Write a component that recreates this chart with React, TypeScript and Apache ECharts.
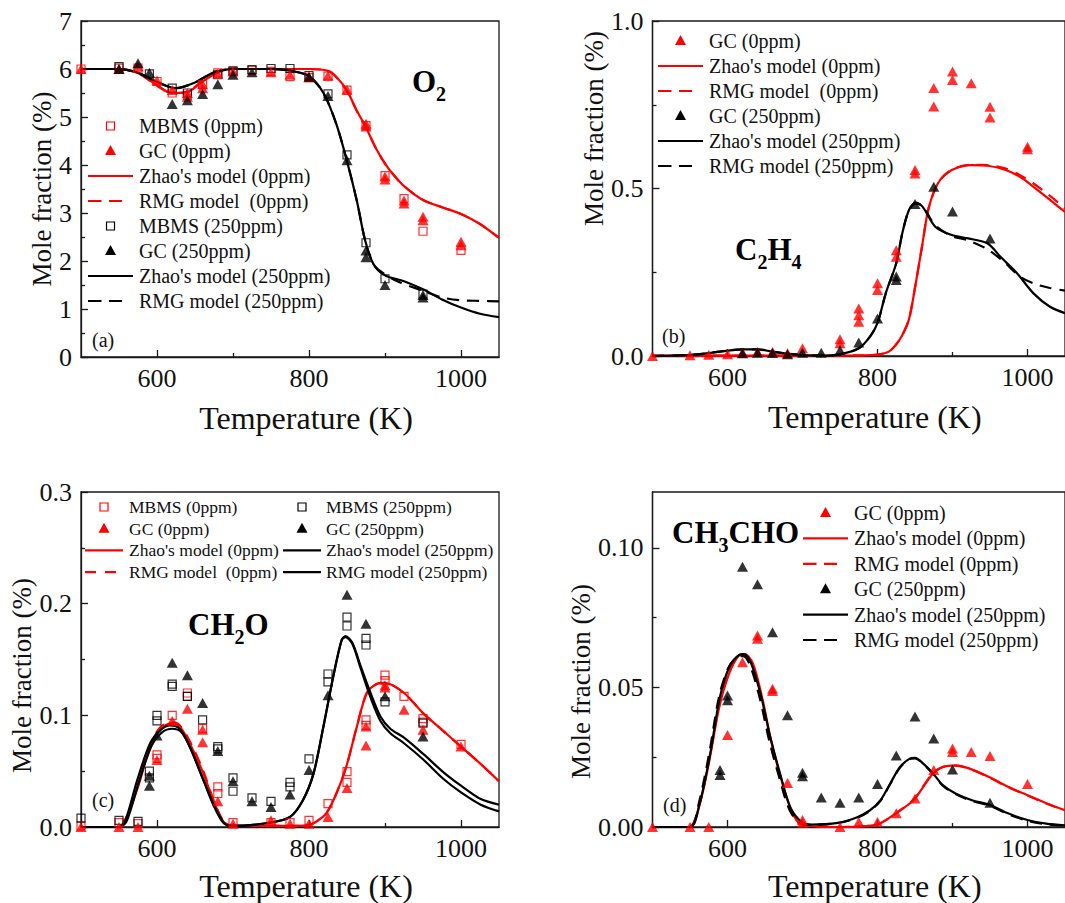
import React, { useEffect, useRef } from 'react';
import * as echarts from 'echarts';

const FONT = "'Liberation Serif', 'Times New Roman', serif";
const RED = '#ff0000';
const BLACK = '#000000';
const AXC = '#1a1a1a';
const TXT = '#111111';

type P = number[][];

// ---------- tick values ----------
const xMajor = [600, 800, 1000];
const xMinor = [700, 900];
const aYMajor = [0, 1, 2, 3, 4, 5, 6, 7];
const aYMinor = [0.5, 1.5, 2.5, 3.5, 4.5, 5.5, 6.5];
const bYMajor = [0, 0.5, 1.0];
const bYMinor = [0.25, 0.75];
const cYMajor = [0, 0.1, 0.2, 0.3];
const cYMinor = [0.05, 0.15, 0.25];
const dYMajor = [0, 0.05, 0.1];
const dYMinor = [0.025, 0.075];

// ---------- panel (a) O2 ----------
const aMbms0: P = [[500,6.0],[550,6.02],[575,6.02],[600,5.74],[620,5.5],[640,5.45],[660,5.68],[680,5.92],[700,5.95],[725,5.97],[750,5.95],[775,5.84],[800,5.82],[825,5.85],[850,5.56],[875,4.82],[900,3.78],[925,3.3],[950,2.62],[1000,2.22]];
const aGc0: P = [[500,6.0],[550,6.0],[575,6.05],[600,5.76],[620,5.56],[640,5.42],[640,5.5],[660,5.6],[660,5.68],[680,5.9],[700,5.95],[750,5.93],[775,5.88],[800,5.83],[825,5.86],[850,5.57],[875,4.8],[875,4.86],[900,3.7],[900,3.76],[925,3.2],[925,3.26],[950,2.85],[950,2.92],[1000,2.33],[1000,2.4]];
const aMbms250: P = [[550,6.05],[590,5.9],[620,5.6],[640,5.5],[680,5.88],[700,5.96],[725,5.99],[750,6.01],[775,6.01],[800,5.86],[825,5.48],[850,4.21],[875,2.38],[900,1.63],[950,1.31]];
const aGc250: P = [[550,6.0],[575,6.12],[590,5.92],[620,5.27],[640,5.35],[660,5.48],[680,5.68],[700,5.88],[725,5.93],[800,5.84],[825,5.44],[850,4.1],[875,2.22],[875,2.08],[900,1.5],[950,1.29],[950,1.24]];
const aZhao0: P = [[500,6.0],[550,6.0],[575,5.92],[600,5.66],[620,5.5],[640,5.52],[660,5.74],[680,5.93],[700,6.0],[750,6.0],[800,6.0],[825,5.96],[837,5.82],[850,5.55],[863,5.13],[875,4.78],[888,4.35],[900,4.03],[912,3.78],[925,3.56],[950,3.27],[975,3.12],[1000,2.98],[1025,2.77],[1050,2.48]];
const aRmg0: P = [[500,6.0],[550,6.0],[575,5.91],[600,5.65],[620,5.5],[640,5.53],[660,5.75],[680,5.93],[700,6.0],[750,6.0],[800,6.0],[825,5.96],[837,5.81],[850,5.54],[863,5.12],[875,4.78],[888,4.35],[900,4.03],[912,3.78],[925,3.56],[950,3.27],[975,3.12],[1000,2.98],[1025,2.77],[1050,2.48]];
const aZhao250: P = [[500,6.0],[550,6.0],[575,5.92],[600,5.73],[625,5.6],[650,5.72],[675,5.93],[700,6.0],[750,6.0],[780,5.95],[800,5.85],[819,5.5],[836,4.85],[850,4.08],[863,3.25],[874,2.42],[885,1.93],[900,1.7],[925,1.58],[950,1.41],[975,1.2],[1000,1.03],[1025,0.9],[1050,0.83]];
const aRmg250: P = [[500,6.0],[550,6.0],[575,5.92],[600,5.73],[625,5.6],[650,5.72],[675,5.93],[700,6.0],[750,6.0],[780,5.95],[800,5.85],[819,5.5],[836,4.85],[850,4.08],[863,3.25],[874,2.42],[885,1.93],[900,1.72],[920,1.55],[950,1.38],[975,1.24],[1000,1.18],[1025,1.17],[1050,1.16]];

// ---------- panel (b) C2H4 ----------
const bGc0: P = [[500,0.0],[550,0.002],[575,0.004],[600,0.005],[620,0.01],[640,0.012],[660,0.012],[680,0.008],[700,0.023],[750,0.038],[750,0.05],[775,0.102],[775,0.122],[775,0.142],[800,0.197],[800,0.217],[825,0.296],[825,0.316],[850,0.545],[850,0.555],[875,0.745],[875,0.8],[900,0.824],[900,0.849],[925,0.814],[950,0.712],[950,0.744],[1000,0.617],[1000,0.625]];
const bGc250: P = [[620,0.008],[640,0.01],[660,0.009],[680,0.005],[700,0.01],[725,0.01],[750,0.017],[775,0.04],[800,0.112],[825,0.227],[825,0.237],[850,0.454],[875,0.505],[900,0.431],[950,0.351]];
const bZhao0: P = [[500,0.001],[600,0.001],[700,0.001],[780,0.002],[800,0.004],[815,0.013],[825,0.035],[833,0.062],[842,0.11],[851,0.217],[860,0.336],[868,0.44],[881,0.517],[899,0.555],[925,0.57],[947,0.568],[970,0.556],[990,0.535],[1008,0.505],[1030,0.466],[1041,0.446],[1050,0.43]];
const bRmg0: P = [[500,0.001],[600,0.001],[700,0.001],[780,0.002],[800,0.004],[815,0.013],[825,0.035],[833,0.062],[842,0.11],[851,0.217],[860,0.336],[868,0.44],[881,0.517],[899,0.556],[925,0.571],[947,0.57],[970,0.56],[990,0.54],[1008,0.515],[1030,0.478],[1041,0.458],[1050,0.44]];
const bZhao250: P = [[500,0.0],[550,0.003],[580,0.01],[600,0.016],[620,0.02],[640,0.02],[660,0.013],[680,0.007],[700,0.003],[725,0.001],[750,0.005],[775,0.023],[790,0.058],[800,0.098],[811,0.187],[825,0.277],[833,0.366],[842,0.436],[851,0.458],[860,0.446],[877,0.386],[899,0.361],[921,0.351],[947,0.336],[964,0.296],[986,0.247],[1008,0.187],[1030,0.147],[1050,0.128]];
const bRmg250: P = [[500,0.0],[550,0.003],[580,0.01],[600,0.016],[620,0.02],[640,0.02],[660,0.013],[680,0.007],[700,0.003],[725,0.001],[750,0.005],[775,0.023],[790,0.058],[800,0.098],[811,0.187],[825,0.277],[833,0.366],[842,0.436],[851,0.455],[860,0.448],[877,0.39],[899,0.358],[921,0.345],[947,0.318],[969,0.28],[990,0.237],[1010,0.215],[1030,0.203],[1050,0.195]];

// ---------- panel (c) CH2O ----------
const cMbms0: P = [[500,0.001],[550,0.004],[575,0.003],[600,0.0615],[600,0.0645],[620,0.1],[640,0.117],[640,0.12],[660,0.088],[680,0.03],[680,0.036],[700,0.004],[750,0.004],[775,0.004],[800,0.006],[825,0.021],[850,0.04],[850,0.0495],[875,0.091],[875,0.096],[900,0.131],[900,0.136],[925,0.117],[950,0.094],[950,0.097],[1000,0.074]];
const cGc0: P = [[500,0.0],[550,0.0],[575,0.0],[600,0.06],[620,0.095],[640,0.106],[660,0.076],[660,0.087],[680,0.023],[700,0.003],[750,0.006],[775,0.003],[800,0.003],[825,0.009],[850,0.035],[875,0.073],[875,0.09],[900,0.125],[900,0.127],[925,0.105],[950,0.087],[1000,0.072]];
const cMbms250: P = [[500,0.008],[550,0.006],[575,0.005],[590,0.044],[590,0.05],[600,0.095],[600,0.1],[620,0.126],[620,0.128],[640,0.117],[660,0.096],[680,0.07],[680,0.072],[700,0.032],[700,0.044],[725,0.026],[750,0.023],[775,0.036],[775,0.04],[800,0.061],[825,0.13],[825,0.137],[850,0.18],[850,0.188],[875,0.163],[875,0.169],[900,0.112],[950,0.093]];
const cGc250: P = [[590,0.037],[590,0.046],[600,0.082],[620,0.147],[640,0.136],[660,0.111],[680,0.068],[700,0.041],[725,0.023],[750,0.018],[775,0.029],[800,0.051],[825,0.118],[850,0.208],[875,0.182],[900,0.117],[950,0.081]];
const cZhao0: P = [[500,0.0],[550,0.0],[560,0.009],[575,0.036],[591,0.072],[604,0.088],[620,0.093],[630,0.09],[643,0.075],[661,0.048],[674,0.024],[687,0.005],[700,0.001],[750,0.001],[780,0.001],[801,0.002],[812,0.006],[823,0.0125],[836,0.03],[849,0.054],[863,0.09],[876,0.12],[889,0.128],[900,0.129],[925,0.12],[950,0.102],[975,0.087],[1000,0.072],[1025,0.057],[1050,0.041]];
const cRmg0: P = [[500,0.0],[550,0.0],[560,0.009],[575,0.037],[591,0.073],[604,0.089],[620,0.094],[630,0.091],[643,0.077],[661,0.05],[674,0.025],[687,0.006],[700,0.001],[750,0.001],[780,0.001],[801,0.002],[812,0.006],[823,0.0125],[836,0.03],[849,0.054],[863,0.09],[876,0.12],[889,0.128],[900,0.129],[925,0.12],[950,0.102],[975,0.087],[1000,0.072],[1025,0.057],[1050,0.041]];
const cZhao250: P = [[500,0.0],[550,0.0],[558,0.005],[574,0.042],[591,0.075],[605,0.087],[617,0.091],[630,0.088],[643,0.072],[661,0.042],[674,0.02],[687,0.004],[700,0.001],[750,0.004],[775,0.009],[792,0.024],[806,0.048],[819,0.09],[832,0.135],[843,0.1675],[848,0.171],[857,0.165],[868,0.144],[881,0.12],[894,0.099],[907,0.088],[925,0.08],[951,0.065],[977,0.049],[1000,0.037],[1026,0.025],[1050,0.02]];
const cRmg250: P = [[500,0.0],[550,0.0],[560,0.005],[576,0.04],[593,0.073],[607,0.085],[620,0.088],[632,0.085],[645,0.069],[663,0.039],[676,0.018],[689,0.003],[700,0.001],[750,0.004],[775,0.009],[792,0.024],[806,0.048],[819,0.09],[832,0.135],[843,0.1675],[848,0.17],[857,0.164],[868,0.142],[881,0.116],[894,0.095],[907,0.084],[925,0.075],[951,0.06],[977,0.043],[1000,0.031],[1026,0.02],[1050,0.014]];

// ---------- panel (d) CH3CHO ----------
const dGc0: P = [[500,0.0],[550,0.0],[575,0.0],[600,0.033],[620,0.059],[640,0.0674],[640,0.0686],[660,0.0487],[660,0.0495],[680,0.0158],[700,0.0015],[700,0.0025],[750,0.0],[775,0.0018],[800,0.0018],[825,0.0049],[850,0.0102],[875,0.0204],[900,0.0269],[900,0.0281],[925,0.0269],[950,0.0254],[1000,0.0154]];
const dGc250: P = [[590,0.0186],[590,0.0204],[600,0.0454],[600,0.0471],[620,0.0932],[640,0.087],[660,0.0698],[680,0.04],[700,0.0182],[700,0.0194],[725,0.0106],[750,0.0087],[775,0.0106],[800,0.0154],[825,0.0256],[850,0.0396],[875,0.0317],[900,0.0206],[950,0.0087]];
const dZhao0: P = [[500,0.0],[549,0.0],[562,0.0073],[575,0.0227],[589,0.043],[602,0.0549],[615,0.0614],[623,0.0619],[634,0.0585],[647,0.0454],[658,0.031],[672,0.0168],[685,0.006],[698,0.001],[750,0.0],[800,0.001],[825,0.005],[848,0.0096],[861,0.0144],[874,0.0192],[887,0.0215],[904,0.0221],[922,0.021],[948,0.018],[974,0.0144],[1000,0.0114],[1025,0.0085],[1050,0.006]];
const dRmg0: P = [[500,0.0],[549,0.0],[562,0.0075],[575,0.0232],[589,0.0435],[602,0.0552],[615,0.0612],[623,0.0614],[634,0.0575],[647,0.044],[658,0.0295],[672,0.0155],[685,0.005],[698,0.001],[750,0.0],[800,0.001],[825,0.005],[848,0.0098],[861,0.0146],[874,0.0193],[887,0.0215],[904,0.022],[922,0.0209],[948,0.0179],[974,0.0143],[1000,0.0113],[1025,0.0084],[1050,0.006]];
const dZhao250: P = [[500,0.0],[550,0.0],[563,0.0085],[577,0.0263],[590,0.0467],[603,0.0577],[616,0.0617],[622,0.0619],[631,0.059],[644,0.0477],[657,0.0323],[670,0.0192],[684,0.0069],[700,0.0015],[712,0.0009],[747,0.0015],[773,0.0035],[790,0.006],[804,0.0096],[817,0.0156],[830,0.0215],[843,0.0245],[850,0.0248],[861,0.0227],[874,0.0192],[887,0.015],[904,0.012],[926,0.0096],[950,0.0079],[974,0.0049],[1000,0.0025],[1025,0.0012],[1050,0.0006]];
const dRmg250: P = [[500,0.0],[550,0.0],[562,0.0088],[576,0.027],[589,0.047],[602,0.0575],[615,0.061],[621,0.0612],[630,0.058],[643,0.0462],[656,0.0305],[669,0.0178],[683,0.006],[700,0.001],[712,0.0008],[747,0.0014],[773,0.0033],[790,0.0058],[804,0.0094],[817,0.0154],[830,0.0213],[843,0.0243],[850,0.0246],[861,0.0226],[874,0.019],[887,0.0148],[904,0.0118],[926,0.0093],[950,0.0076],[974,0.0046],[1000,0.0022],[1025,0.001],[1050,0.0005]];

// ---------- axes helpers ----------
const axisLS = { color: AXC, width: 1.3 };

function xAxes(gi: number, gap: number) {
  return [
    {
      type: 'value', gridIndex: gi, min: 500, max: 1050, position: 'bottom',
      axisLine: { show: true, onZero: false, lineStyle: axisLS },
      axisTick: { show: true, inside: true, length: 7, customValues: xMajor, lineStyle: axisLS },
      axisLabel: {
        show: true, customValues: xMajor, margin: 8, fontSize: 26, fontFamily: FONT, color: TXT,
        formatter: (v: number) => String(v),
      },
      splitLine: { show: false },
      name: 'Temperature (K)', nameLocation: 'middle', nameGap: gap,
      nameTextStyle: { fontSize: 32, fontFamily: FONT, color: TXT, padding: [0, 0, 0, 32] },
    },
    {
      type: 'value', gridIndex: gi, min: 500, max: 1050, position: 'bottom',
      axisLine: { show: false },
      axisTick: { show: true, inside: true, length: 4, customValues: xMinor, lineStyle: axisLS },
      axisLabel: { show: false }, splitLine: { show: false },
    },
  ];
}

function yAxes(gi: number, max: number, major: number[], minor: number[], digits: number, gap: number, pad: number[]) {
  return [
    {
      type: 'value', gridIndex: gi, min: 0, max, position: 'left',
      axisLine: { show: true, onZero: false, lineStyle: axisLS },
      axisTick: { show: true, inside: true, length: 7, customValues: major, lineStyle: axisLS },
      axisLabel: {
        show: true, customValues: major, margin: 9, fontSize: 26, fontFamily: FONT, color: TXT,
        formatter: (v: number) => v.toFixed(digits),
      },
      splitLine: { show: false },
      name: 'Mole fraction (%)', nameLocation: 'middle', nameGap: gap,
      nameTextStyle: { fontSize: 27, fontFamily: FONT, color: TXT, padding: pad },
    },
    {
      type: 'value', gridIndex: gi, min: 0, max, position: 'left',
      axisLine: { show: false },
      axisTick: { show: true, inside: true, length: 4, customValues: minor, lineStyle: axisLS },
      axisLabel: { show: false }, splitLine: { show: false },
    },
  ];
}

// ---------- series helpers ----------
function line(gi: number, name: string, data: P, color: string, dashed: boolean) {
  return {
    type: 'line', name, xAxisIndex: gi * 2, yAxisIndex: gi * 2, data,
    symbol: 'none', smooth: 0.3, silent: true, z: 2,
    lineStyle: { color, width: 2.2, type: dashed ? [12, 8] : 'solid' },
    itemStyle: { color },
  };
}
function sq(gi: number, name: string, data: P, color: string) {
  return {
    type: 'scatter', name, xAxisIndex: gi * 2, yAxisIndex: gi * 2, data,
    symbol: 'rect', symbolSize: 8, silent: true, z: 3,
    itemStyle: { color: 'rgba(255,255,255,0)', borderColor: color, borderWidth: 1.2 },
  };
}
function tri(gi: number, name: string, data: P, color: string) {
  return {
    type: 'scatter', name, xAxisIndex: gi * 2, yAxisIndex: gi * 2, data,
    symbol: 'triangle', symbolSize: [11, 10], silent: true, z: 4,
    itemStyle: { color },
  };
}

// ---------- legend / label graphics ----------
type Kind = 'sq' | 'tri' | 'line' | 'dash';
function legendBlock(x0: number, y0: number, dy: number, iconW: number, dashW: number, dash: number[], textX: number, fs: number, items: [string, Kind, string][]) {
  const els: any[] = [];
  items.forEach(([label, kind, color], i) => {
    const cy = y0 + i * dy;
    const cx = x0 + iconW / 2;
    if (kind === 'sq') {
      els.push({ type: 'rect', shape: { x: cx - 4, y: cy - 4, width: 8, height: 8 }, style: { fill: 'none', stroke: color, lineWidth: 1.2 } });
    } else if (kind === 'tri') {
      els.push({ type: 'polygon', shape: { points: [[cx, cy - 6], [cx - 5.5, cy + 4], [cx + 5.5, cy + 4]] }, style: { fill: color } });
    } else if (kind === 'line') {
      els.push({ type: 'line', shape: { x1: x0, y1: cy, x2: x0 + iconW, y2: cy }, style: { stroke: color, lineWidth: 2.2 } });
    } else {
      els.push({ type: 'line', shape: { x1: x0, y1: cy, x2: x0 + dashW, y2: cy }, style: { stroke: color, lineWidth: 2.2, lineDash: dash } });
    }
    els.push({ type: 'text', x: textX, y: cy, style: { text: label, fontSize: fs, fontFamily: FONT, fill: TXT, align: 'left', verticalAlign: 'middle' } });
  });
  return els;
}

function chem(x: number, y: number, text: string) {
  return {
    type: 'text', x, y,
    style: {
      text, align: 'left', verticalAlign: 'middle',
      rich: {
        n: { fontSize: 31, fontWeight: 'bold', fontFamily: FONT, fill: BLACK, lineHeight: 31, padding: [0, 0, 7, 0], verticalAlign: 'bottom' },
        s: { fontSize: 20, fontWeight: 'bold', fontFamily: FONT, fill: BLACK, lineHeight: 20, verticalAlign: 'bottom' },
      },
    },
  };
}
function tag(x: number, y: number, text: string) {
  return { type: 'text', x, y, style: { text, fontSize: 20, fontFamily: FONT, fill: TXT, align: 'left', verticalAlign: 'middle' } };
}

function buildOption() {
  const gridBase = { show: true, borderColor: AXC, borderWidth: 1.3, backgroundColor: 'transparent', containLabel: false };
  const grid = [
    { ...gridBase, left: 81, top: 21, width: 418, height: 336 },
    { ...gridBase, left: 652.5, top: 21, width: 419, height: 335 },
    { ...gridBase, left: 81, top: 492, width: 418, height: 335 },
    { ...gridBase, left: 652.5, top: 492, width: 419, height: 335 },
  ];
  const xAxis = [...xAxes(0, 45), ...xAxes(1, 45), ...xAxes(2, 43), ...xAxes(3, 43)];
  const yAxis = [
    ...yAxes(0, 7, aYMajor, aYMinor, 0, 25, [0, 0, 0, 0]),
    ...yAxes(1, 1.0, bYMajor, bYMinor, 1, 41, [0, 0, 0, 120]),
    ...yAxes(2, 0.3, cYMajor, cYMinor, 1, 40, [0, 32, 0, 0]),
    ...yAxes(3, 0.12, dYMajor, dYMinor, 2, 41, [0, 44, 0, 0]),
  ];
  const series = [
    line(0, "Zhao's model (0ppm)", aZhao0, RED, false),
    line(0, 'RMG model (0ppm)', aRmg0, RED, true),
    line(0, "Zhao's model (250ppm)", aZhao250, BLACK, false),
    line(0, 'RMG model (250ppm)', aRmg250, BLACK, true),
    sq(0, 'MBMS (0ppm)', aMbms0, RED),
    tri(0, 'GC (0ppm)', aGc0, RED),
    sq(0, 'MBMS (250ppm)', aMbms250, BLACK),
    tri(0, 'GC (250ppm)', aGc250, BLACK),

    line(1, "Zhao's model (0ppm)", bZhao0, RED, false),
    line(1, 'RMG model (0ppm)', bRmg0, RED, true),
    line(1, "Zhao's model (250ppm)", bZhao250, BLACK, false),
    line(1, 'RMG model (250ppm)', bRmg250, BLACK, true),
    tri(1, 'GC (0ppm)', bGc0, RED),
    tri(1, 'GC (250ppm)', bGc250, BLACK),

    line(2, "Zhao's model (0ppm)", cZhao0, RED, false),
    line(2, 'RMG model (0ppm)', cRmg0, RED, true),
    line(2, "Zhao's model (250ppm)", cZhao250, BLACK, false),
    line(2, 'RMG model (250ppm)', cRmg250, BLACK, false),
    sq(2, 'MBMS (0ppm)', cMbms0, RED),
    tri(2, 'GC (0ppm)', cGc0, RED),
    sq(2, 'MBMS (250ppm)', cMbms250, BLACK),
    tri(2, 'GC (250ppm)', cGc250, BLACK),

    line(3, "Zhao's model (0ppm)", dZhao0, RED, false),
    line(3, 'RMG model (0ppm)', dRmg0, RED, true),
    line(3, "Zhao's model (250ppm)", dZhao250, BLACK, false),
    line(3, 'RMG model (250ppm)', dRmg250, BLACK, true),
    tri(3, 'GC (0ppm)', dGc0, RED),
    tri(3, 'GC (250ppm)', dGc250, BLACK),
  ];

  const graphic = [
    ...legendBlock(88, 126, 25, 45, 34, [13.5, 7.5], 139, 20, [
      ['MBMS (0ppm)', 'sq', RED],
      ['GC (0ppm)', 'tri', RED],
      ["Zhao's model (0ppm)", 'line', RED],
      ['RMG model  (0ppm)', 'dash', RED],
      ['MBMS (250ppm)', 'sq', BLACK],
      ['GC (250ppm)', 'tri', BLACK],
      ["Zhao's model (250ppm)", 'line', BLACK],
      ['RMG model (250ppm)', 'dash', BLACK],
    ]),
    ...legendBlock(658, 41, 25, 45, 34, [13.5, 7.5], 709, 20, [
      ['GC (0ppm)', 'tri', RED],
      ["Zhao's model (0ppm)", 'line', RED],
      ['RMG model  (0ppm)', 'dash', RED],
      ['GC (250ppm)', 'tri', BLACK],
      ["Zhao's model (250ppm)", 'line', BLACK],
      ['RMG model (250ppm)', 'dash', BLACK],
    ]),
    ...legendBlock(85, 507, 21.7, 38, 34, [11, 9], 129, 17.5, [
      ['MBMS (0ppm)', 'sq', RED],
      ['GC (0ppm)', 'tri', RED],
      ["Zhao's model (0ppm)", 'line', RED],
      ['RMG model  (0ppm)', 'dash', RED],
    ]),
    ...legendBlock(283, 507, 21.7, 38, 34, [11, 9], 326, 17.5, [
      ['MBMS (250ppm)', 'sq', BLACK],
      ['GC (250ppm)', 'tri', BLACK],
      ["Zhao's model (250ppm)", 'line', BLACK],
      ['RMG model (250ppm)', 'line', BLACK],
    ]),
    ...legendBlock(803, 513, 25.4, 45, 34, [13.5, 7.5], 854, 20, [
      ['GC (0ppm)', 'tri', RED],
      ["Zhao's model (0ppm)", 'line', RED],
      ['RMG model (0ppm)', 'dash', RED],
      ['GC (250ppm)', 'tri', BLACK],
      ["Zhao's model (250ppm)", 'line', BLACK],
      ['RMG model (250ppm)', 'dash', BLACK],
    ]),
    chem(412, 88, '{n|O}{s|2}'),
    chem(735, 256, '{n|C}{s|2}{n|H}{s|4}'),
    chem(188, 631, '{n|CH}{s|2}{n|O}'),
    chem(672, 539, '{n|CH}{s|3}{n|CHO}'),
    tag(92, 340, '(a)'),
    tag(662, 336, '(b)'),
    tag(92, 800, '(c)'),
    tag(663, 805, '(d)'),
  ];

  return { animation: false, backgroundColor: '#ffffff', grid, xAxis, yAxis, series, graphic };
}

export default function App() {
  const ref = useRef<HTMLDivElement>(null);
  useEffect(() => {
    const chart = echarts.init(ref.current as HTMLDivElement, null, { renderer: 'svg' });
    chart.setOption(buildOption() as any);
    return () => chart.dispose();
  }, []);
  return <div ref={ref} style={{ position: 'fixed', left: 0, top: 0, width: 1065, height: 903, background: '#fff' }} />;
}
